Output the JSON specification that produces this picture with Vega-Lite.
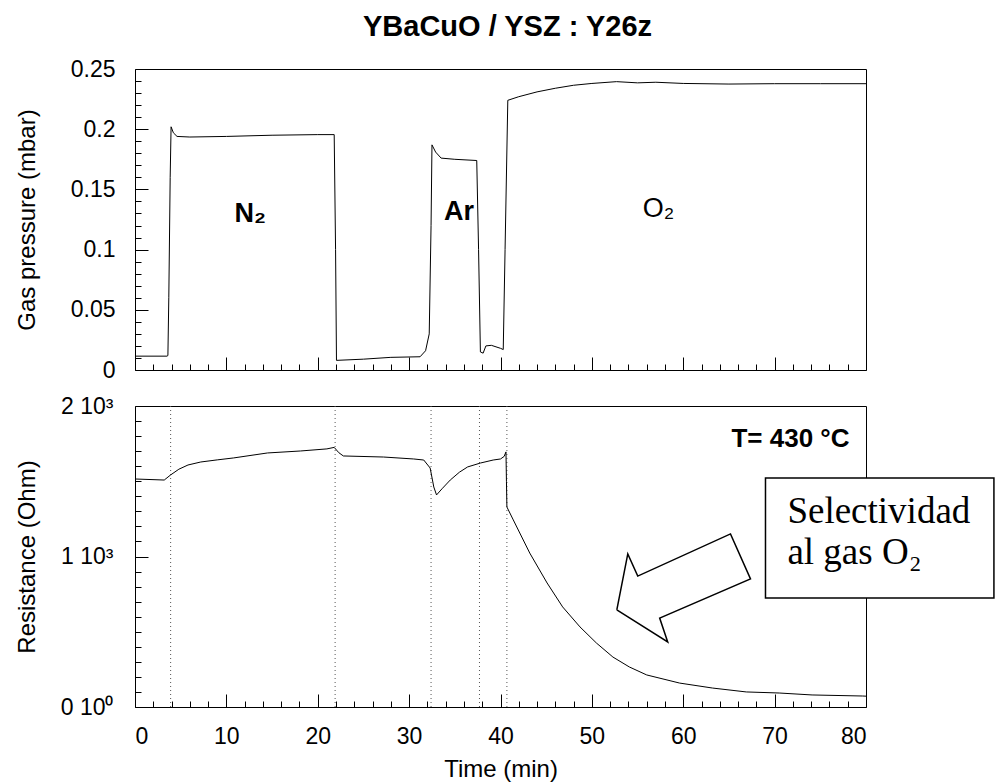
{
  "$schema": "https://vega.github.io/schema/vega-lite/v6.json",
  "background": "white",
  "padding": {"left": 14, "top": 12, "right": 0, "bottom": 0},
  "spacing": 11,
  "config": {
    "font": "Liberation Sans",
    "view": {"stroke": "#000", "strokeWidth": 1},
    "axis": {
      "labelFont": "Liberation Sans", "labelFontSize": 23, "labelColor": "#000",
      "titleFont": "Liberation Sans", "titleFontSize": 24, "titleFontWeight": "normal", "titleColor": "#000",
      "tickColor": "#000", "tickWidth": 1, "domain": false, "grid": false
    }
  },
  "vconcat": [
    {
      "width": 731,
      "height": 301,
      "title": {"text": "YBaCuO / YSZ : Y26z", "fontSize": 29, "fontWeight": "bold", "font": "Liberation Sans", "color": "#000", "anchor": "middle", "frame": "group", "offset": 16, "dx": 7},
      "layer": [
        {
          "data": {"values": [
            {"t": 0, "p": 0.0115}, {"t": 3.5, "p": 0.0115}, {"t": 3.6, "p": 0.012}, {"t": 3.7, "p": 0.06},
            {"t": 3.85, "p": 0.16}, {"t": 3.95, "p": 0.202}, {"t": 4.2, "p": 0.197}, {"t": 4.6, "p": 0.194},
            {"t": 6, "p": 0.1935}, {"t": 10, "p": 0.194}, {"t": 15, "p": 0.195}, {"t": 20, "p": 0.1955},
            {"t": 21.8, "p": 0.1955}, {"t": 21.95, "p": 0.1}, {"t": 22.05, "p": 0.008}, {"t": 25, "p": 0.009},
            {"t": 28, "p": 0.0105}, {"t": 31.2, "p": 0.011}, {"t": 31.8, "p": 0.016}, {"t": 32.2, "p": 0.03},
            {"t": 32.4, "p": 0.12}, {"t": 32.5, "p": 0.187}, {"t": 32.9, "p": 0.181}, {"t": 33.5, "p": 0.176},
            {"t": 35, "p": 0.175}, {"t": 37.4, "p": 0.174}, {"t": 37.6, "p": 0.1}, {"t": 37.8, "p": 0.015},
            {"t": 38.1, "p": 0.014}, {"t": 38.4, "p": 0.02}, {"t": 39, "p": 0.0205}, {"t": 40.0, "p": 0.018},
            {"t": 40.3, "p": 0.017}, {"t": 40.5, "p": 0.1}, {"t": 40.8, "p": 0.224}, {"t": 42, "p": 0.227},
            {"t": 44, "p": 0.231}, {"t": 46, "p": 0.234}, {"t": 48, "p": 0.2365}, {"t": 50, "p": 0.238},
            {"t": 52.7, "p": 0.2395}, {"t": 55, "p": 0.2385}, {"t": 57, "p": 0.239}, {"t": 60, "p": 0.238},
            {"t": 65, "p": 0.2375}, {"t": 70, "p": 0.2378}, {"t": 75, "p": 0.2378}, {"t": 80, "p": 0.2378}
          ]},
          "mark": {"type": "line", "color": "#000", "strokeWidth": 1},
          "encoding": {
            "x": {"field": "t", "type": "quantitative", "scale": {"domain": [0, 80], "nice": false, "zero": false},
                  "axis": {"orient": "bottom", "values": [0, 10, 20, 30, 40, 50, 60, 70, 80], "tickSize": -13, "labels": false, "title": null}},
            "y": {"field": "p", "type": "quantitative", "scale": {"domain": [0, 0.25], "nice": false},
                  "axis": {"orient": "left", "values": [0, 0.05, 0.1, 0.15, 0.2, 0.25], "format": "~g", "tickSize": -13, "labelPadding": 33, "title": "Gas pressure (mbar)", "titlePadding": 31}}
          }
        },
        {
          "data": {"values": [
            {"t": 12.6, "p": 0.123, "label": "N₂"},
            {"t": 35.45, "p": 0.1246, "label": "Ar"}
          ]},
          "mark": {"type": "text", "fontSize": 27, "fontWeight": "bold", "color": "#000", "align": "center", "baseline": "alphabetic"},
          "encoding": {
            "x": {"field": "t", "type": "quantitative",
                  "axis": {"orient": "bottom", "values": [2,4,6,8,12,14,16,18,22,24,26,28,32,34,36,38,42,44,46,48,52,54,56,58,62,64,66,68,72,74,76,78], "tickSize": -6, "labels": false, "title": null}},
            "y": {"field": "p", "type": "quantitative",
                  "axis": {"orient": "left", "values": [0.01,0.02,0.03,0.04,0.06,0.07,0.08,0.09,0.11,0.12,0.13,0.14,0.16,0.17,0.18,0.19,0.21,0.22,0.23,0.24], "tickSize": -6, "labels": false, "title": null}},
            "text": {"field": "label"}
          }
        },
        {
          "data": {"values": [
            {"t": 57.3, "p": 0.127, "label": "O₂"}
          ]},
          "mark": {"type": "text", "fontSize": 27, "fontWeight": "normal", "color": "#000", "align": "center", "baseline": "alphabetic"},
          "encoding": {
            "x": {"field": "t", "type": "quantitative", "axis": null},
            "y": {"field": "p", "type": "quantitative", "axis": null},
            "text": {"field": "label"}
          }
        }
      ],
      "resolve": {"axis": {"x": "independent", "y": "independent"}}
    },
    {
      "width": 731,
      "height": 301,
      "layer": [
        {
          "data": {"values": [{"t": 3.9}, {"t": 21.9}, {"t": 32.4}, {"t": 37.7}, {"t": 40.7}]},
          "mark": {"type": "rule", "color": "#555", "strokeWidth": 1, "strokeDash": [1, 3]},
          "encoding": {
            "x": {"field": "t", "type": "quantitative",
                  "axis": {"orient": "bottom", "values": [2,4,6,8,12,14,16,18,22,24,26,28,32,34,36,38,42,44,46,48,52,54,56,58,62,64,66,68,72,74,76,78], "tickSize": -6, "labels": false, "title": null}}
          }
        },
        {
          "data": {"values": [
            {"t": 0, "r": 1515}, {"t": 3.2, "r": 1508}, {"t": 3.9, "r": 1542}, {"t": 4.8, "r": 1580},
            {"t": 5.8, "r": 1608}, {"t": 7.2, "r": 1628}, {"t": 9, "r": 1642}, {"t": 10.8, "r": 1655},
            {"t": 14.5, "r": 1688}, {"t": 18.1, "r": 1701}, {"t": 21.0, "r": 1715}, {"t": 21.8, "r": 1725},
            {"t": 22.3, "r": 1690}, {"t": 22.8, "r": 1668}, {"t": 27.2, "r": 1661}, {"t": 30.5, "r": 1648},
            {"t": 31.6, "r": 1641}, {"t": 32.3, "r": 1588}, {"t": 32.7, "r": 1462}, {"t": 33.0, "r": 1409},
            {"t": 33.6, "r": 1450}, {"t": 34.5, "r": 1508}, {"t": 35.5, "r": 1560}, {"t": 36.4, "r": 1595},
            {"t": 37.8, "r": 1621}, {"t": 39.2, "r": 1641}, {"t": 40.0, "r": 1648}, {"t": 40.4, "r": 1665},
            {"t": 40.6, "r": 1695}, {"t": 40.65, "r": 1500}, {"t": 40.7, "r": 1329}, {"t": 41.4, "r": 1243},
            {"t": 43.2, "r": 1023}, {"t": 45.1, "r": 824}, {"t": 46.8, "r": 665}, {"t": 48.7, "r": 532},
            {"t": 50.5, "r": 425}, {"t": 52.3, "r": 332}, {"t": 54.1, "r": 266}, {"t": 56.0, "r": 213},
            {"t": 59.6, "r": 159}, {"t": 63.2, "r": 126}, {"t": 66.9, "r": 100}, {"t": 70.5, "r": 93},
            {"t": 74.1, "r": 80}, {"t": 79.6, "r": 73}, {"t": 80, "r": 72}
          ]},
          "mark": {"type": "line", "color": "#000", "strokeWidth": 1},
          "encoding": {
            "x": {"field": "t", "type": "quantitative", "scale": {"domain": [0, 80], "nice": false, "zero": false},
                  "axis": {"orient": "bottom", "values": [0, 10, 20, 30, 40, 50, 60, 70, 80], "tickSize": -13, "labelPadding": 31, "title": "Time (min)", "titlePadding": 9}},
            "y": {"field": "r", "type": "quantitative", "scale": {"domain": [0, 2000], "nice": false},
                  "axis": {"orient": "left", "values": [0, 1000, 2000], "tickSize": -13, "labelPadding": 35, "labelExpr": "datum.value == 0 ? '0 10⁰' : (datum.value == 1000 ? '1 10³' : '2 10³')", "title": "Resistance (Ohm)", "titlePadding": 21}}
          }
        },
        {
          "data": {"values": [{"t1": 69.0, "t2": 94.0, "r1": 1522, "r2": 724}]},
          "mark": {"type": "rect", "fill": "#fff", "stroke": "#000", "strokeWidth": 1.5},
          "encoding": {
            "x": {"field": "t1", "type": "quantitative", "axis": null},
            "x2": {"field": "t2"},
            "y": {"field": "r1", "type": "quantitative",
                  "axis": {"orient": "left", "values": [100,200,300,400,500,600,700,800,900,1100,1200,1300,1400,1500,1600,1700,1800,1900], "tickSize": -6, "labels": false, "title": null}},
            "y2": {"field": "r2"}
          }
        },
        {
          "data": {"values": [
            {"t": 71.4, "r": 1223, "label": "Selectividad"},
            {"t": 71.4, "r": 950, "label": "al gas O₂"}
          ]},
          "mark": {"type": "text", "font": "Liberation Serif", "fontSize": 37, "color": "#000", "align": "left", "baseline": "alphabetic"},
          "encoding": {
            "x": {"field": "t", "type": "quantitative", "axis": null},
            "y": {"field": "r", "type": "quantitative", "axis": null},
            "text": {"field": "label"}
          }
        },
        {
          "data": {"values": [{"t": 78.2, "r": 1728, "label": "T= 430 °C"}]},
          "mark": {"type": "text", "fontSize": 26, "fontWeight": "bold", "color": "#000", "align": "right", "baseline": "alphabetic"},
          "encoding": {
            "x": {"field": "t", "type": "quantitative", "axis": null},
            "y": {"field": "r", "type": "quantitative", "axis": null},
            "text": {"field": "label"}
          }
        },
        {
          "data": {"values": [
            {"i": 0, "t": 52.73, "r": 645}, {"i": 1, "t": 53.93, "r": 1017}, {"i": 2, "t": 55.02, "r": 870},
            {"i": 3, "t": 65.17, "r": 1150}, {"i": 4, "t": 67.36, "r": 851}, {"i": 5, "t": 57.42, "r": 591},
            {"i": 6, "t": 58.30, "r": 432}, {"i": 7, "t": 52.73, "r": 645}
          ]},
          "mark": {"type": "line", "color": "#000", "strokeWidth": 1.5, "strokeJoin": "miter"},
          "encoding": {
            "x": {"field": "t", "type": "quantitative", "axis": null},
            "y": {"field": "r", "type": "quantitative", "axis": null},
            "order": {"field": "i", "type": "quantitative"}
          }
        }
      ],
      "resolve": {"axis": {"x": "independent", "y": "independent"}}
    }
  ]
}
